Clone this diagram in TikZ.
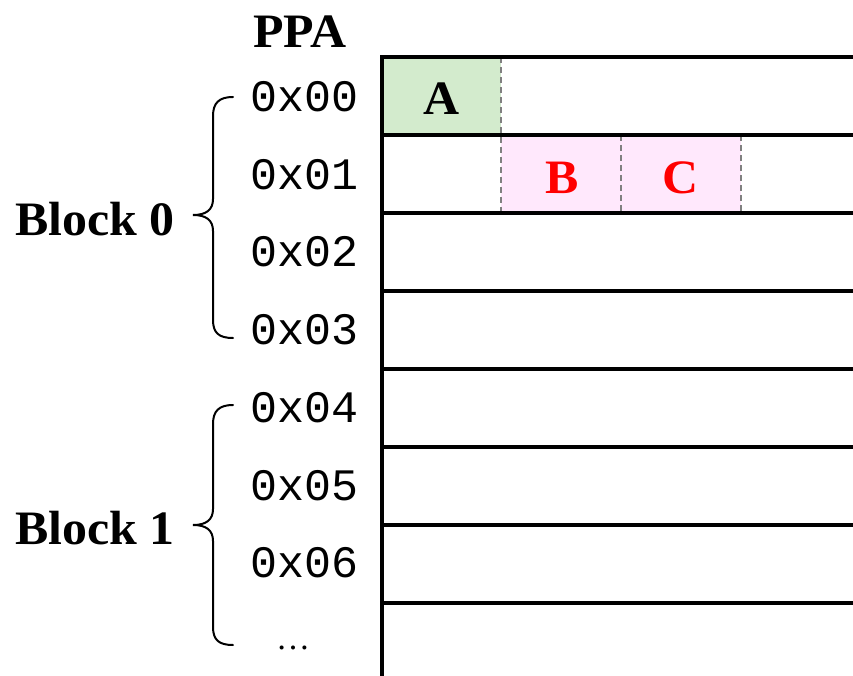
\documentclass[tikz,border=0pt]{standalone}
\usepackage{fontspec}
\setmainfont{Liberation Serif}
\setmonofont{Liberation Mono}
\definecolor{agreen}{HTML}{D3EBCD}
\definecolor{bpink}{HTML}{FFE8FC}
\begin{document}
\begin{tikzpicture}[x=1pt,y=-1pt,
  hex/.style={font=\fontsize{45}{50}\selectfont\ttfamily, anchor=center, inner sep=0pt},
  boldtxt/.style={font=\fontsize{48}{52}\selectfont\bfseries\addfontfeature{FakeStretch=1.04}, anchor=center, inner sep=0pt},
  gridline/.style={line width=3.2pt},
  sepline/.style={gray, line width=2.2pt, dash pattern=on 6pt off 4pt},
  bracepath/.style={line width=2pt, line cap=round}]
\useasboundingbox (0,0) rectangle (853,676);
% cells
\fill[agreen] (382,57) rectangle (501,135);
\fill[bpink] (501,135) rectangle (741,213);
\draw[sepline] (501,57) -- (501,213);
\draw[sepline] (621,135) -- (621,213);
\draw[sepline] (741,135) -- (741,213);
% grid
\foreach \yy in {57,135,213,291,369,447,525,603}
  \draw[gridline] (382,\yy) -- (853,\yy);
\draw[gridline] (382,55.4) -- (382,676);
% texts
\node[boldtxt] (ppa) at (300,32) {PPA};
\node[boldtxt] (a) at (442,99) {A};
\node[boldtxt, text=red] (b) at (562,178) {B};
\node[boldtxt, text=red] (c) at (681,178) {C};
\node[hex] (h0) at (305,97) {0x00};
\node[hex] (h1) at (305,175) {0x01};
\node[hex] (h2) at (305,252) {0x02};
\node[hex] (h3) at (305,330) {0x03};
\node[hex] (h4) at (305,408) {0x04};
\node[hex] (h5) at (305,486) {0x05};
\node[hex] (h6) at (305,563) {0x06};
\node[font=\fontsize{34}{36}\selectfont, inner sep=0pt] (dots) at (293,648) {\ldots};
\node[boldtxt] (blk0) at (95,219) {Block 0};
\node[boldtxt] (blk1) at (95,528) {Block 1};
% braces
\draw[bracepath] (233,97) .. controls (219,97) and (213,103) .. (213,116) -- (213,199)
  .. controls (213,210) and (206,215) .. (193,215)
  .. controls (206,215) and (213,220) .. (213,231) -- (213,320)
  .. controls (213,333) and (219,338) .. (233,338);
\draw[bracepath] (233,405) .. controls (219,405) and (213,411) .. (213,424) -- (213,509)
  .. controls (213,520) and (206,525) .. (193,525)
  .. controls (206,525) and (213,530) .. (213,541) -- (213,627)
  .. controls (213,640) and (219,645) .. (233,645);
\end{tikzpicture}
\end{document}
